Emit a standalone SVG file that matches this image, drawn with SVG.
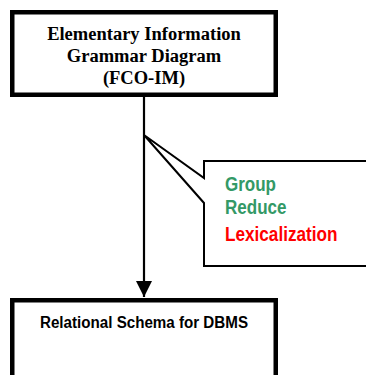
<svg xmlns="http://www.w3.org/2000/svg" width="366" height="375" viewBox="0 0 366 375">
  <style>
    .box { fill: #ffffff; stroke: #000000; stroke-width: 4.5; }
    .callout { fill: #ffffff; stroke: #000000; stroke-width: 2; stroke-linejoin: miter; }
    .title { font-family: "Liberation Serif", "Times New Roman", serif; font-weight: bold; font-size: 18.5px; fill: #000000; text-anchor: middle; }
    .label { font-family: "Liberation Sans", Arial, sans-serif; font-weight: bold; font-size: 16px; fill: #000000; }
    .step { font-family: "Liberation Sans", Arial, sans-serif; font-weight: bold; font-size: 19.5px; }
    .green { fill: #339966; }
    .red { fill: #ff0000; }
    .link { stroke: #000000; stroke-width: 2.2; fill: none; }
  </style>
  <defs>
    <marker id="arrow" viewBox="0 0 16 16" refX="16" refY="8" markerWidth="16" markerHeight="16" markerUnits="userSpaceOnUse" orient="auto">
      <path d="M0,0 L16,8 L0,16 Z" fill="#000000"/>
    </marker>
  </defs>
  <rect width="366" height="375" fill="#ffffff"/>

  <g id="connectors">
    <line class="link" x1="144" y1="97" x2="144" y2="297" marker-end="url(#arrow)"/>
  </g>

  <g id="fco-im">
    <rect class="box" x="12.25" y="12.25" width="263.5" height="82.5"/>
    <text class="title" x="144" y="39.5">Elementary Information</text>
    <text class="title" x="144" y="61.5">Grammar Diagram</text>
    <text class="title" x="144" y="83.5">(FCO-IM)</text>
  </g>

  <g id="transformations">
    <path class="callout" d="M204,161 H372 V266 H204 V203 L144,135 L204,178 Z"/>
    <text class="step green" x="225" y="191" textLength="51" lengthAdjust="spacingAndGlyphs">Group</text>
    <text class="step green" x="225" y="214" textLength="61.5" lengthAdjust="spacingAndGlyphs">Reduce</text>
    <text class="step red" x="225" y="241" textLength="112.5" lengthAdjust="spacingAndGlyphs">Lexicalization</text>
  </g>

  <g id="relational-schema">
    <rect class="box" x="12.25" y="300.25" width="263.5" height="90"/>
    <text class="label" x="40" y="328" textLength="208" lengthAdjust="spacingAndGlyphs">Relational Schema for DBMS</text>
  </g>
</svg>
